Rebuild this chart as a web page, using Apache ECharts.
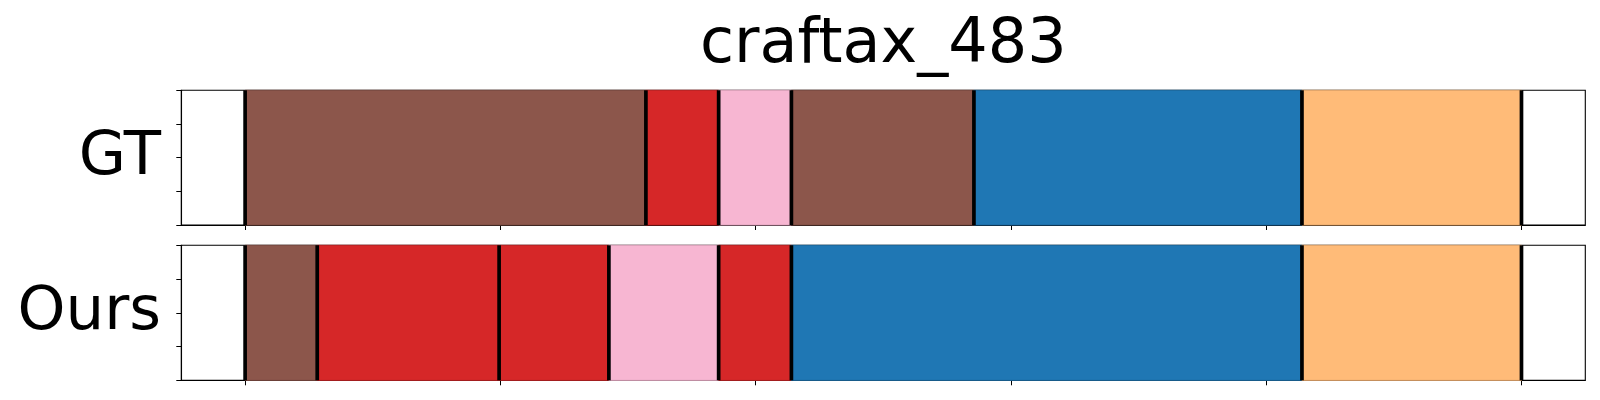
<!DOCTYPE html>
<html>
<head>
<meta charset="utf-8">
<script src="https://cdn.jsdelivr.net/npm/echarts@6/dist/echarts.min.js"></script>
<style>
html,body{margin:0;padding:0;background:#fff;}
#chart{width:1600px;height:400px;}
</style>
</head>
<body>
<div id="chart"></div>
<script>
// ---- data ----
const titleText = 'craftax_483';
const rowNames = ['GT', 'Ours'];
const gtBounds = [0, 31.4, 37.1, 42.8, 57.1, 82.8, 100];
const gtClasses = ['brown', 'red', 'pink', 'brown', 'blue', 'orange'];
const oursBounds = [0, 5.65, 19.9, 28.5, 37.1, 42.8, 82.8, 100];
const oursClasses = ['brown', 'red', 'red', 'pink', 'red', 'blue', 'orange'];
const xTicks = [0, 20, 40, 60, 80, 100];
const yTicks = [0, 0.25, 0.5, 0.75, 1];

// ---- styles ----
const classColors = {
  brown: '#8c564b',
  red: '#d62728',
  pink: '#f7b6d2',
  blue: '#1f77b4',
  orange: '#ffbb78'
};
const edgeColors = {
  brown: '#7d4c43',
  red: '#c02323',
  pink: '#e0a5bf',
  blue: '#1c6ba2',
  orange: '#e6a86c'
};

function segData(bounds, classes) {
  return classes.map((c, i) => [bounds[i], bounds[i + 1], c]);
}

const grids = [
  { left: 181.3, top: 90.3, width: 1404, height: 134.7 },
  { left: 181.3, top: 245.3, width: 1404, height: 135 }
];

const chart = echarts.init(document.getElementById('chart'), null, { renderer: 'canvas' });

const xAxes = grids.map((g, i) => ({
  type: 'value', gridIndex: i, min: -5, max: 105,
  axisLine: { show: true, onZero: false, lineStyle: { color: '#000', width: 1.1 } },
  axisTick: { show: true, inside: false, length: 5, customValues: xTicks, lineStyle: { color: '#000', width: 1 } },
  axisLabel: { show: false },
  splitLine: { show: false }
}));
const yAxes = grids.map((g, i) => ({
  type: 'value', gridIndex: i, min: yTicks[0], max: yTicks[yTicks.length - 1], interval: 0.25,
  axisLine: { show: true, onZero: false, lineStyle: { color: '#000', width: 1.1 } },
  axisTick: { show: true, inside: false, length: 5, lineStyle: { color: '#000', width: 1 } },
  axisLabel: { show: false },
  splitLine: { show: false }
}));

function rectSeries(idx, data) {
  return {
    type: 'custom', xAxisIndex: idx, yAxisIndex: idx,
    encode: { x: [0, 1] },
    data: data,
    renderItem: function (params, api) {
      const s = api.coord([api.value(0), 1]);
      const e = api.coord([api.value(1), 0]);
      const cls = data[params.dataIndex][2];
      return {
        type: 'rect',
        shape: { x: s[0], y: s[1], width: e[0] - s[0], height: e[1] - s[1] },
        style: { fill: classColors[cls], stroke: edgeColors[cls], lineWidth: 1 }
      };
    },
    z: 2
  };
}
function lineSeries(idx, bounds) {
  return {
    type: 'custom', xAxisIndex: idx, yAxisIndex: idx,
    encode: { x: 0 },
    data: bounds.map(b => [b]),
    renderItem: function (params, api) {
      const a = api.coord([api.value(0), 1]);
      const b = api.coord([api.value(0), 0]);
      return {
        type: 'line',
        shape: { x1: a[0], y1: a[1], x2: b[0], y2: b[1] },
        style: { stroke: '#000', lineWidth: 3.7 }
      };
    },
    z: 3
  };
}

chart.setOption({
  animation: false,
  backgroundColor: '#fff',
  grid: grids.map(g => Object.assign({ show: true, borderColor: '#000', borderWidth: 1.1, backgroundColor: 'transparent' }, g)),
  xAxis: xAxes,
  yAxis: yAxes,
  series: [
    rectSeries(0, segData(gtBounds, gtClasses)),
    lineSeries(0, gtBounds),
    rectSeries(1, segData(oursBounds, oursClasses)),
    lineSeries(1, oursBounds)
  ],
  graphic: [
    { type: 'text', x: 883.3, y: 46, style: { text: titleText, font: '62px "DejaVu Sans"', fill: '#000', align: 'center', verticalAlign: 'middle' } },
    { type: 'text', x: 161, y: 158, style: { text: rowNames[0], font: '61px "DejaVu Sans"', fill: '#000', align: 'right', verticalAlign: 'middle' } },
    { type: 'text', x: 161, y: 313, style: { text: rowNames[1], font: '61px "DejaVu Sans"', fill: '#000', align: 'right', verticalAlign: 'middle' } }
  ]
});
</script>
</body>
</html>
